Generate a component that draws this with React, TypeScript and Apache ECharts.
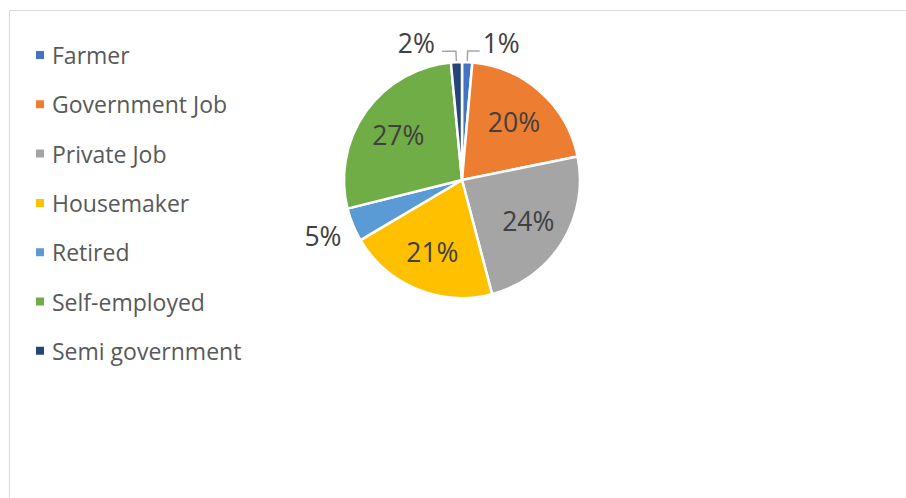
import React, { useEffect, useRef } from "react";
import * as echarts from "echarts";

const categories = ["Farmer", "Government Job", "Private Job", "Housemaker", "Retired", "Self-employed", "Semi government"];
const values = [1.4, 20.4, 24.1, 20.6, 4.6, 27.4, 1.5];
const colors = ["#4472C4", "#ED7D31", "#A5A5A5", "#FFC000", "#5B9BD5", "#70AD47", "#264478"];
const outsideLabels = ["Farmer", "Retired", "Semi government"];

export default function App() {
  const ref = useRef<HTMLDivElement>(null);
  useEffect(() => {
    if (!ref.current) return;
    const chart = echarts.init(ref.current, null, { renderer: "svg" });
    const font = "'Open Sans', sans-serif";
    const labelBase = { color: "#404040", fontSize: 26.5, fontFamily: font, formatter: "{d}%" };
    const rich = {
      t: { color: "#404040", fontSize: 26.5, fontFamily: font, lineHeight: 36 },
      g: { height: 16, lineHeight: 16, fontSize: 10 },
    };

    const outsideCfg: Record<string, any> = {
      Farmer: {
        label: { show: true, position: "outside", ...labelBase, formatter: "{t|{d}%}\n{g| }", rich, distanceToLabelLine: 3 },
        labelLine: { show: true, length: 11, length2: 12, lineStyle: { color: "#A6A6A6", width: 1.5 } },
      },
      "Semi government": {
        label: { show: true, position: "outside", ...labelBase, formatter: "{t|{d}%}\n{g| }", rich, distanceToLabelLine: 7 },
        labelLine: { show: true, length: 11, length2: 14, lineStyle: { color: "#A6A6A6", width: 1.5 } },
      },
      Retired: {
        label: { show: true, position: "outside", ...labelBase, formatter: "{g| }\n{t|{d}%}", rich, distanceToLabelLine: 4 },
        labelLine: { show: false, length: 8, length2: 0 },
      },
    };

    const mainData = categories.map((name, i) => {
      const cfg = outsideCfg[name];
      return {
        name,
        value: values[i],
        itemStyle: { color: colors[i] },
        ...(cfg ? cfg : { label: { show: false }, labelLine: { show: false } }),
      };
    });

    const overlayData = categories.map((name, i) => ({
      name,
      value: values[i],
      label: { show: !outsideLabels.includes(name) },
    }));

    chart.setOption({
      animation: false,
      graphic: [
        {
          type: "rect",
          shape: { x: 9.5, y: 10.5, width: 1000, height: 1000 },
          style: { fill: "none", stroke: "#D9D9D9", lineWidth: 1 },
          silent: true,
        },
      ],
      legend: {
        orient: "vertical",
        left: 34,
        top: 43,
        padding: 0,
        itemWidth: 10,
        itemHeight: 10,
        itemGap: 25.3,
        icon: "rect",
        data: categories,
        selectedMode: false,
        textStyle: { color: "#595959", fontSize: 23, fontFamily: font, lineHeight: 24, padding: [0, 0, 0, 2] },
      },
      series: [
        {
          type: "pie",
          center: [462, 180],
          radius: [0, 118],
          startAngle: 90,
          clockwise: true,
          avoidLabelOverlap: false,
          percentPrecision: 0,
          itemStyle: { borderColor: "#FFFFFF", borderWidth: 2.5 },
          emphasis: { disabled: true },
          data: mainData,
        },
        {
          type: "pie",
          center: [462, 180],
          radius: [0, 150],
          startAngle: 90,
          clockwise: true,
          avoidLabelOverlap: false,
          percentPrecision: 0,
          silent: true,
          itemStyle: { color: "rgba(0,0,0,0)" },
          label: { position: "inside", ...labelBase },
          labelLine: { show: false },
          emphasis: { disabled: true },
          data: overlayData,
        },
      ],
    });
    return () => chart.dispose();
  }, []);
  return (
    <div
      ref={ref}
      style={{ position: "fixed", left: 0, top: 0, width: 906, height: 498, background: "#FFFFFF" }}
    />
  );
}
